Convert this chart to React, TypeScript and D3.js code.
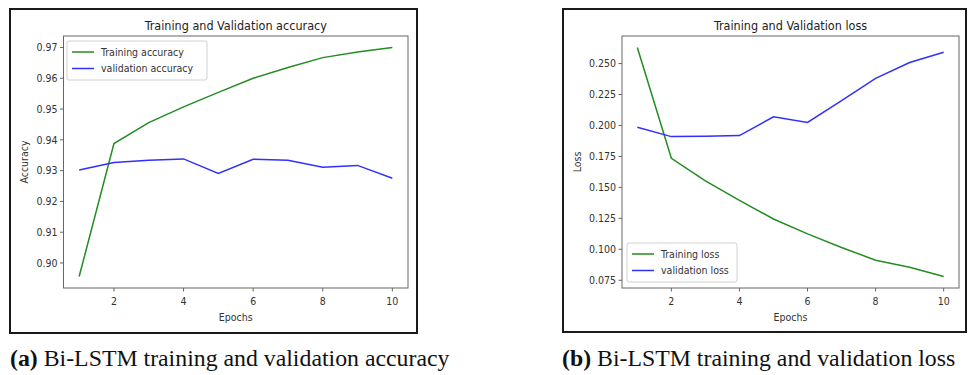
import React from 'react';
import * as d3 from 'd3';

const epochs = [1, 2, 3, 4, 5, 6, 7, 8, 9, 10];
const trainAcc = [0.8956, 0.9388, 0.9456, 0.9507, 0.9554, 0.9600, 0.9635, 0.9667, 0.9685, 0.9700];
const valAcc = [0.9302, 0.9326, 0.9334, 0.9338, 0.9291, 0.9337, 0.9334, 0.9311, 0.9317, 0.9275];
const trainLoss = [0.2630, 0.1735, 0.1552, 0.1395, 0.1245, 0.1125, 0.1015, 0.0912, 0.0855, 0.0780];
const valLoss = [0.1985, 0.1910, 0.1912, 0.1918, 0.2070, 0.2025, 0.2200, 0.2380, 0.2508, 0.2592];
const xTicks = [2, 4, 6, 8, 10];
const accTicks = [0.9, 0.91, 0.92, 0.93, 0.94, 0.95, 0.96, 0.97];
const lossTicks = [0.075, 0.1, 0.125, 0.15, 0.175, 0.2, 0.225, 0.25];

const GREEN = '#238c23';
const BLUE = '#3030ff';
const SANS = "'DejaVu Sans Condensed', 'DejaVu Sans', sans-serif";
const SERIF = 'Liberation Serif';

type Box = { x: number; y: number; w: number; h: number };
type Plot = { l: number; r: number; t: number; b: number };

function Panel({ frame, plot, title, yLabel, yTicks, digits, train, val, trainName, valName, legend, caption, tag }: {
  frame: Box; plot: Plot; title: string; yLabel: string; yTicks: number[]; digits: number;
  train: number[]; val: number[]; trainName: string; valName: string;
  legend: Box; caption: { x: number; y: number; text: string }; tag: string;
}) {
  // matplotlib-style auto limits: 5% margin around the data
  const [lo, hi] = d3.extent([...train, ...val]) as [number, number];
  const pad = (hi - lo) * 0.05;
  const x = d3.scaleLinear().domain([1 - 0.45, 10 + 0.45]).range([plot.l, plot.r]);
  const y = d3.scaleLinear().domain([lo - pad, hi + pad]).range([plot.b, plot.t]);
  const line = d3.line<number>().x((_, i) => x(epochs[i])).y(d => y(d));
  const midX = (plot.l + plot.r) / 2;
  const midY = (plot.t + plot.b) / 2;
  const rowY = [legend.y + 11, legend.y + 27.5];

  return (
    <g>
      <rect x={frame.x} y={frame.y} width={frame.w} height={frame.h} fill="none" stroke="#1a1a1a" strokeWidth={2} />
      <text x={midX} y={plot.t - 6} textAnchor="middle" fontFamily={SANS} fontSize={12.5} fill="#222">{title}</text>
      <path d={line(train) || ''} fill="none" stroke={GREEN} strokeWidth={1.5} />
      <path d={line(val) || ''} fill="none" stroke={BLUE} strokeWidth={1.5} />
      <rect x={plot.l} y={plot.t} width={plot.r - plot.l} height={plot.b - plot.t} fill="none" stroke="#666" strokeWidth={1} />
      {yTicks.map(t => (
        <g key={t}>
          <line x1={plot.l - 3.5} x2={plot.l} y1={y(t)} y2={y(t)} stroke="#666" />
          <text x={plot.l - 6} y={y(t)} dy="0.35em" textAnchor="end" fontFamily={SANS} fontSize={10.5} fill="#333">{t.toFixed(digits)}</text>
        </g>
      ))}
      {xTicks.map(t => (
        <g key={t}>
          <line x1={x(t)} x2={x(t)} y1={plot.b} y2={plot.b + 3.5} stroke="#666" />
          <text x={x(t)} y={plot.b + 17} textAnchor="middle" fontFamily={SANS} fontSize={10.5} fill="#333">{t}</text>
        </g>
      ))}
      <text x={midX} y={plot.b + 33} textAnchor="middle" fontFamily={SANS} fontSize={10.5} fill="#333">Epochs</text>
      <text transform={`translate(${frame.x + 18},${midY}) rotate(-90)`} textAnchor="middle" fontFamily={SANS} fontSize={10.5} fill="#333">{yLabel}</text>
      <rect x={legend.x} y={legend.y} width={legend.w} height={legend.h} rx={2} fill="#fff" fillOpacity={0.85} stroke="#d0d0d0" />
      {[trainName, valName].map((name, i) => (
        <g key={name}>
          <line x1={legend.x + 5} x2={legend.x + 27} y1={rowY[i]} y2={rowY[i]} stroke={i === 0 ? GREEN : BLUE} strokeWidth={1.5} />
          <text x={legend.x + 34} y={rowY[i]} dy="0.35em" fontFamily={SANS} fontSize={10.5} fill="#333">{name}</text>
        </g>
      ))}
      <text x={caption.x} y={caption.y} fontFamily={SERIF} fontSize={23.8} fill="#111">
        <tspan fontWeight="bold">{tag}</tspan>
        <tspan>{caption.text}</tspan>
      </text>
    </g>
  );
}

export default function App() {
  return (
    <svg width={968} height={375} style={{ position: 'absolute', left: 0, top: 0, background: '#fff' }}>
      <rect width={968} height={375} fill="#fff" />
      <Panel
        frame={{ x: 10, y: 9, w: 407, h: 324 }}
        plot={{ l: 63.5, r: 408, t: 36, b: 288 }}
        title="Training and Validation accuracy"
        yLabel="Accuracy"
        yTicks={accTicks}
        digits={2}
        train={trainAcc}
        val={valAcc}
        trainName="Training accuracy"
        valName="validation accuracy"
        legend={{ x: 67, y: 41, w: 140, h: 39 }}
        caption={{ x: 10, y: 366, text: ' Bi-LSTM training and validation accuracy' }}
        tag="(a)"
      />
      <Panel
        frame={{ x: 563, y: 9, w: 403, h: 323 }}
        plot={{ l: 622, r: 959, t: 36, b: 288 }}
        title="Training and Validation loss"
        yLabel="Loss"
        yTicks={lossTicks}
        digits={3}
        train={trainLoss}
        val={valLoss}
        trainName="Training loss"
        valName="validation loss"
        legend={{ x: 627, y: 243, w: 110, h: 39 }}
        caption={{ x: 562, y: 366, text: ' Bi-LSTM training and validation loss' }}
        tag="(b)"
      />
    </svg>
  );
}
